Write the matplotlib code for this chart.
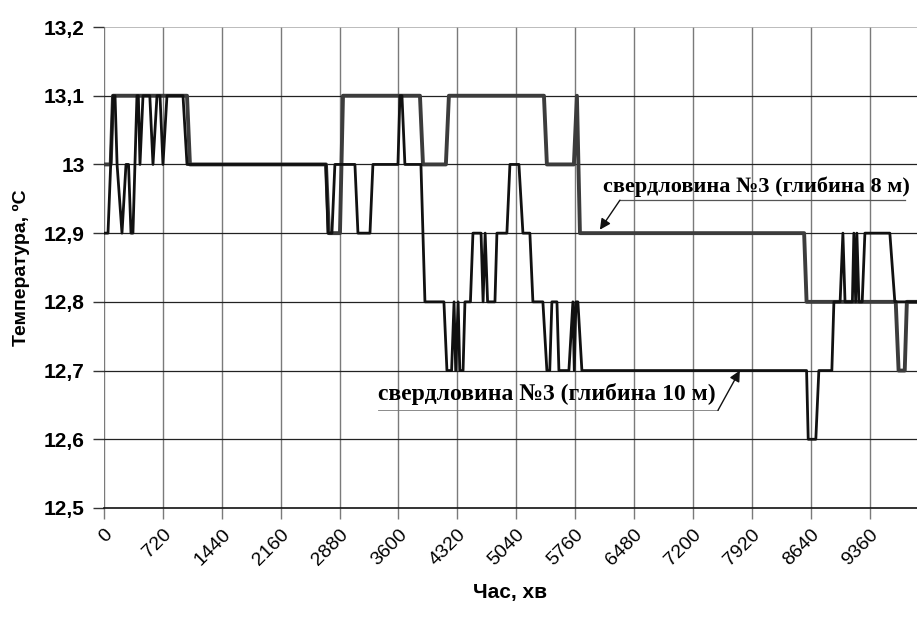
import matplotlib.pyplot as plt
from matplotlib import font_manager

# свердловина №3, глибина 8 м
t8 = [0, 82, 110, 1015, 1051, 2714, 2750, 2885, 2922, 3863, 3900, 4180, 4217,
      5379, 5415, 5745, 5782, 5819, 8560, 8590, 9680, 9715, 9790, 9816, 9940]
T8 = [13.0, 13.0, 13.1, 13.1, 13.0, 13.0, 12.9, 12.9, 13.1, 13.1, 13.0, 13.0, 13.1,
      13.1, 13.0, 13.0, 13.1, 12.9, 12.9, 12.8, 12.8, 12.7, 12.7, 12.8, 12.8]

# свердловина №3, глибина 10 м
t10 = [0, 49, 82, 110, 135, 160, 220, 269, 300, 330, 354, 403, 420, 440, 477, 560,
       599, 648, 685, 721, 770, 966, 1015, 2714, 2738, 2787, 2823, 3068, 3105, 3252,
       3288, 3594, 3618, 3643, 3679, 3875, 3924, 4156, 4193, 4250, 4280, 4300, 4330,
       4350, 4390, 4413, 4480, 4511, 4610, 4635, 4660, 4690, 4780, 4804, 4926, 4963,
       5073, 5122, 5207, 5244, 5366, 5415, 5450, 5476, 5538, 5562, 5684, 5733, 5750,
       5770, 5794, 5843, 8590, 8610, 8703, 8740, 8899, 8924, 9000, 9034, 9060, 9150,
       9168, 9190, 9205, 9230, 9270, 9303, 9608, 9669, 9940]
T10 = [12.9, 12.9, 13.0, 13.1, 13.1, 13.0, 12.9, 13.0, 13.0, 12.9, 12.9, 13.1, 13.1,
       13.0, 13.1, 13.1, 13.0, 13.1, 13.1, 13.0, 13.1, 13.1, 13.0, 13.0, 12.9, 12.9,
       13.0, 13.0, 12.9, 12.9, 13.0, 13.0, 13.1, 13.1, 13.0, 13.0, 12.8, 12.8, 12.7,
       12.7, 12.8, 12.7, 12.8, 12.7, 12.7, 12.8, 12.8, 12.9, 12.9, 12.8, 12.9, 12.8,
       12.8, 12.9, 12.9, 13.0, 13.0, 12.9, 12.9, 12.8, 12.8, 12.7, 12.7, 12.8, 12.8,
       12.7, 12.7, 12.8, 12.7, 12.8, 12.8, 12.7, 12.7, 12.6, 12.6, 12.7, 12.7, 12.8,
       12.8, 12.9, 12.8, 12.8, 12.9, 12.8, 12.9, 12.8, 12.8, 12.9, 12.9, 12.8, 12.8]

xticks = list(range(0, 9361, 720))
yticks = [12.5, 12.6, 12.7, 12.8, 12.9, 13.0, 13.1, 13.2]
ylabels = ['12,5', '12,6', '12,7', '12,8', '12,9', '13', '13,1', '13,2']

names = {f.name for f in font_manager.fontManager.ttflist}
narrow = [n for n in ['Liberation Sans Narrow', 'DejaVu Sans Condensed'] if n in names]
narrow = narrow + ['Liberation Sans', 'DejaVu Sans']

fig = plt.figure(figsize=(9.17, 6.17), dpi=100)
ax = fig.add_axes([0.1134, 0.1767, 0.8866, 0.7795])

for x in xticks:
    ax.axvline(x, color='#7a7a7a', lw=1.0, zorder=1)
for y in yticks[1:-1]:
    ax.axhline(y, color='#222222', lw=0.9, zorder=1)
ax.axhline(13.2, color='#b0b0b0', lw=1.2, zorder=1)

ax.plot(t8, T8, color='#3c3c3c', lw=2.8, zorder=3)
ax.plot(t10, T10, color='#111111', lw=2.0, zorder=4)

ax.set_xlim(0, 9940)
ax.set_ylim(12.5, 13.2)
for s in ['top', 'right', 'left']:
    ax.spines[s].set_visible(False)
ax.spines['bottom'].set_color('#111111')
ax.spines['bottom'].set_linewidth(1.2)

ax.set_yticks(yticks)
ax.set_yticklabels(ylabels, fontsize=15, fontweight='bold', family='Liberation Sans')
ax.tick_params(axis='y', length=8, width=1, color='#333333', pad=6)
ax.set_xticks(xticks)
ax.set_xticklabels([str(v) for v in xticks], fontsize=14, rotation=45, ha='right',
                   va='top', rotation_mode='anchor', family=narrow)
ax.tick_params(axis='x', length=8, width=1, color='#7a7a7a', pad=5)

ax.set_xlabel('Час, хв', fontsize=15, fontweight='bold', family=narrow, labelpad=10)
ax.set_ylabel('Температура, ºС', fontsize=14, fontweight='bold',
              family='Liberation Sans', labelpad=10)

serif = 'Liberation Serif'
ax.text(6100, 12.968, 'свердловина №3 (глибина 8 м)', fontsize=16, fontweight='bold',
        family=serif, va='center', ha='left', clip_on=False)
ax.plot([6308, 9792], [12.948, 12.948], color='#555555', lw=0.9, clip_on=False)
ax.annotate('', xy=(6063, 12.905), xytext=(6308, 12.948),
            arrowprops=dict(arrowstyle='-|>', color='#111111', lw=1.0,
                            mutation_scale=16, shrinkA=0, shrinkB=0))

ax.text(3349, 12.666, 'свердловина №3 (глибина 10 м)', fontsize=17, fontweight='bold',
        family=serif, va='center', ha='left')
ax.plot([3349, 7506], [12.642, 12.642], color='#777777', lw=0.6)
ax.annotate('', xy=(7774, 12.70), xytext=(7506, 12.642),
            arrowprops=dict(arrowstyle='-|>', color='#111111', lw=1.0,
                            mutation_scale=16, shrinkA=0, shrinkB=0))

fig.savefig('out.png', dpi=100)
